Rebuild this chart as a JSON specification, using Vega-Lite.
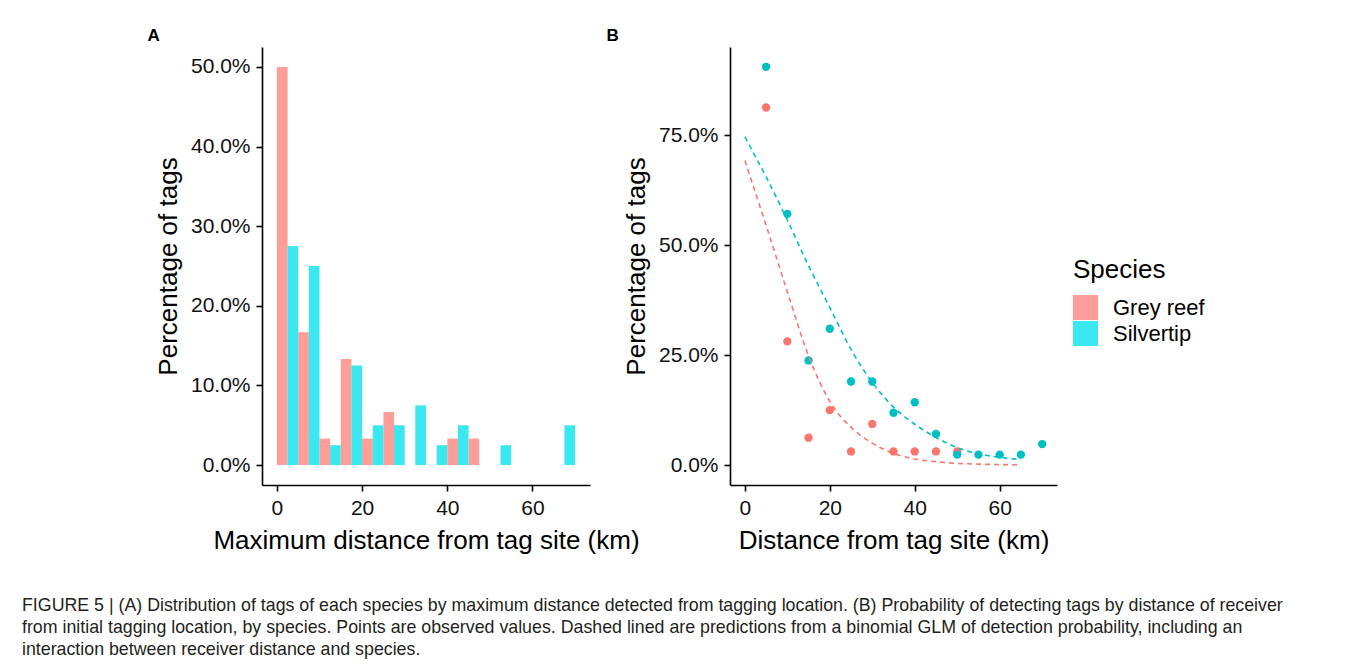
{
  "$schema": "https://vega.github.io/schema/vega-lite/v6.json",
  "background": "white",
  "padding": {"left": 22, "top": 27, "right": 10, "bottom": 10},
  "bounds": "flush",
  "datasets": {
    "hist": [
      {"species": "Grey reef", "bin_start": 0, "bin_end": 5, "pct": 0.5},
      {"species": "Grey reef", "bin_start": 5, "bin_end": 10, "pct": 0.1667},
      {"species": "Grey reef", "bin_start": 10, "bin_end": 15, "pct": 0.0333},
      {"species": "Grey reef", "bin_start": 15, "bin_end": 20, "pct": 0.1333},
      {"species": "Grey reef", "bin_start": 20, "bin_end": 25, "pct": 0.0333},
      {"species": "Grey reef", "bin_start": 25, "bin_end": 30, "pct": 0.0667},
      {"species": "Grey reef", "bin_start": 40, "bin_end": 45, "pct": 0.0333},
      {"species": "Grey reef", "bin_start": 45, "bin_end": 50, "pct": 0.0333},
      {"species": "Silvertip", "bin_start": 0, "bin_end": 5, "pct": 0.275},
      {"species": "Silvertip", "bin_start": 5, "bin_end": 10, "pct": 0.25},
      {"species": "Silvertip", "bin_start": 10, "bin_end": 15, "pct": 0.025},
      {"species": "Silvertip", "bin_start": 15, "bin_end": 20, "pct": 0.125},
      {"species": "Silvertip", "bin_start": 20, "bin_end": 25, "pct": 0.05},
      {"species": "Silvertip", "bin_start": 25, "bin_end": 30, "pct": 0.05},
      {"species": "Silvertip", "bin_start": 30, "bin_end": 35, "pct": 0.075},
      {"species": "Silvertip", "bin_start": 35, "bin_end": 40, "pct": 0.025},
      {"species": "Silvertip", "bin_start": 40, "bin_end": 45, "pct": 0.05},
      {"species": "Silvertip", "bin_start": 50, "bin_end": 55, "pct": 0.025},
      {"species": "Silvertip", "bin_start": 65, "bin_end": 70, "pct": 0.05}
    ],
    "obs": [
      {"species": "Grey reef", "dist": 5, "pct": 0.8125},
      {"species": "Grey reef", "dist": 10, "pct": 0.28125},
      {"species": "Grey reef", "dist": 15, "pct": 0.0625},
      {"species": "Grey reef", "dist": 20, "pct": 0.125},
      {"species": "Grey reef", "dist": 25, "pct": 0.03125},
      {"species": "Grey reef", "dist": 30, "pct": 0.09375},
      {"species": "Grey reef", "dist": 35, "pct": 0.03125},
      {"species": "Grey reef", "dist": 40, "pct": 0.03125},
      {"species": "Grey reef", "dist": 45, "pct": 0.03125},
      {"species": "Grey reef", "dist": 50, "pct": 0.03125},
      {"species": "Silvertip", "dist": 5, "pct": 0.905},
      {"species": "Silvertip", "dist": 10, "pct": 0.571},
      {"species": "Silvertip", "dist": 15, "pct": 0.238},
      {"species": "Silvertip", "dist": 20, "pct": 0.31},
      {"species": "Silvertip", "dist": 25, "pct": 0.19},
      {"species": "Silvertip", "dist": 30, "pct": 0.19},
      {"species": "Silvertip", "dist": 35, "pct": 0.119},
      {"species": "Silvertip", "dist": 40, "pct": 0.143},
      {"species": "Silvertip", "dist": 45, "pct": 0.071},
      {"species": "Silvertip", "dist": 50, "pct": 0.024},
      {"species": "Silvertip", "dist": 55, "pct": 0.024},
      {"species": "Silvertip", "dist": 60, "pct": 0.024},
      {"species": "Silvertip", "dist": 65, "pct": 0.024},
      {"species": "Silvertip", "dist": 70, "pct": 0.048}
    ],
    "pred": [
      {"species": "Grey reef", "dist": 0, "pct": 0.692},
      {"species": "Grey reef", "dist": 5, "pct": 0.545},
      {"species": "Grey reef", "dist": 10, "pct": 0.394},
      {"species": "Grey reef", "dist": 15, "pct": 0.248},
      {"species": "Grey reef", "dist": 20, "pct": 0.145},
      {"species": "Grey reef", "dist": 25, "pct": 0.086},
      {"species": "Grey reef", "dist": 30, "pct": 0.05},
      {"species": "Grey reef", "dist": 35, "pct": 0.027},
      {"species": "Grey reef", "dist": 40, "pct": 0.014},
      {"species": "Grey reef", "dist": 45, "pct": 0.008},
      {"species": "Grey reef", "dist": 50, "pct": 0.004},
      {"species": "Grey reef", "dist": 55, "pct": 0.0025},
      {"species": "Grey reef", "dist": 60, "pct": 0.0015},
      {"species": "Grey reef", "dist": 65, "pct": 0.001},
      {"species": "Silvertip", "dist": 0, "pct": 0.746},
      {"species": "Silvertip", "dist": 5, "pct": 0.655},
      {"species": "Silvertip", "dist": 10, "pct": 0.557},
      {"species": "Silvertip", "dist": 15, "pct": 0.453},
      {"species": "Silvertip", "dist": 20, "pct": 0.358},
      {"species": "Silvertip", "dist": 25, "pct": 0.263},
      {"species": "Silvertip", "dist": 30, "pct": 0.188},
      {"species": "Silvertip", "dist": 35, "pct": 0.132},
      {"species": "Silvertip", "dist": 40, "pct": 0.093},
      {"species": "Silvertip", "dist": 45, "pct": 0.063},
      {"species": "Silvertip", "dist": 50, "pct": 0.04},
      {"species": "Silvertip", "dist": 55, "pct": 0.026},
      {"species": "Silvertip", "dist": 60, "pct": 0.018},
      {"species": "Silvertip", "dist": 65, "pct": 0.013}
    ]
  },
  "title": {
    "text": [
      "FIGURE 5 | (A) Distribution of tags of each species by maximum distance detected from tagging location. (B) Probability of detecting tags by distance of receiver",
      "from initial tagging location, by species. Points are observed values. Dashed lined are predictions from a binomial GLM of detection probability, including an",
      "interaction between receiver distance and species."
    ],
    "orient": "bottom",
    "anchor": "start",
    "frame": "group",
    "dx": -240,
    "offset": 44,
    "font": "Liberation Sans",
    "fontSize": 17.8,
    "fontWeight": "normal",
    "lineHeight": 22,
    "color": "#231F20",
    "baseline": "top"
  },
  "spacing": 140,
  "hconcat": [
    {
      "title": {"text": "A", "anchor": "start", "frame": "bounds", "fontSize": 17, "fontWeight": "bold", "font": "Liberation Sans", "offset": 2, "color": "black", "dx": -8},
      "width": 328,
      "height": 438,
      "data": {"name": "hist"},
      "layer": [
        {
          "transform": [{"filter": "datum.species === 'Grey reef'"}],
          "mark": {"type": "bar", "x2Offset": -10.6},
          "encoding": {
            "x": {"field": "bin_start", "type": "quantitative", "scale": {"domain": [-3.5, 73.5], "nice": false, "zero": false}, "axis": {"values": [0, 20, 40, 60], "title": "Maximum distance from tag site (km)"}},
            "x2": {"field": "bin_end"},
            "y": {"field": "pct", "type": "quantitative", "stack": null, "scale": {"domain": [-0.025, 0.525], "nice": false, "zero": false}, "axis": {"values": [0, 0.1, 0.2, 0.3, 0.4, 0.5], "format": ".1%", "title": "Percentage of tags"}},
            "y2": {"datum": 0},
            "fill": {"field": "species", "type": "nominal", "scale": {"domain": ["Grey reef", "Silvertip"], "range": ["#FF9E98", "#3BE8EF"]}, "legend": {"title": "Species"}}
          }
        },
        {
          "transform": [{"filter": "datum.species === 'Silvertip'"}],
          "mark": {"type": "bar", "xOffset": 10.6},
          "encoding": {
            "x": {"field": "bin_start", "type": "quantitative"},
            "x2": {"field": "bin_end"},
            "y": {"field": "pct", "type": "quantitative", "stack": null},
            "y2": {"datum": 0},
            "fill": {"field": "species", "type": "nominal"}
          }
        }
      ]
    },
    {
      "title": {"text": "B", "anchor": "start", "frame": "bounds", "fontSize": 17, "fontWeight": "bold", "font": "Liberation Sans", "offset": 2, "color": "black", "dx": -17},
      "width": 327,
      "height": 438,
      "layer": [
        {
          "data": {"name": "obs"},
          "mark": {"type": "circle", "size": 70, "opacity": 1},
          "encoding": {
            "x": {"field": "dist", "type": "quantitative", "scale": {"domain": [-3.5, 73.5], "nice": false, "zero": false}, "axis": {"values": [0, 20, 40, 60], "title": "Distance from tag site (km)"}},
            "y": {"field": "pct", "type": "quantitative", "scale": {"domain": [-0.045, 0.95], "nice": false, "zero": false}, "axis": {"values": [0, 0.25, 0.5, 0.75], "format": ".1%", "title": "Percentage of tags"}},
            "color": {"field": "species", "type": "nominal", "scale": {"domain": ["Grey reef", "Silvertip"], "range": ["#F8766D", "#00BFC4"]}, "legend": null}
          }
        },
        {
          "data": {"name": "pred"},
          "mark": {"type": "line", "strokeDash": [5, 4], "strokeWidth": 1.6, "interpolate": "monotone"},
          "encoding": {
            "x": {"field": "dist", "type": "quantitative"},
            "y": {"field": "pct", "type": "quantitative"},
            "color": {"field": "species", "type": "nominal", "legend": null}
          }
        }
      ]
    }
  ],
  "config": {
    "font": "Liberation Sans",
    "view": {"stroke": null},
    "axis": {
      "grid": false,
      "domainColor": "black",
      "domainWidth": 1.6,
      "tickColor": "black",
      "tickWidth": 1.6,
      "tickSize": 6,
      "labelFont": "Liberation Sans",
      "labelFontSize": 21,
      "labelColor": "#111111",
      "labelPadding": 6,
      "titleFont": "Liberation Sans",
      "titleFontSize": 26,
      "titleFontWeight": "normal",
      "titleColor": "black",
      "titlePadding": 9
    },
    "legend": {
      "orient": "none",
      "legendX": 811,
      "legendY": 210,
      "titleFont": "Liberation Sans",
      "titleFontSize": 26,
      "titleFontWeight": "normal",
      "titleColor": "black",
      "labelFont": "Liberation Sans",
      "labelFontSize": 22,
      "labelColor": "black",
      "symbolType": "square",
      "symbolSize": 625,
      "symbolStrokeWidth": 0,
      "symbolOpacity": 1,
      "rowPadding": 1,
      "labelOffset": 15,
      "titlePadding": 12
    }
  }
}
